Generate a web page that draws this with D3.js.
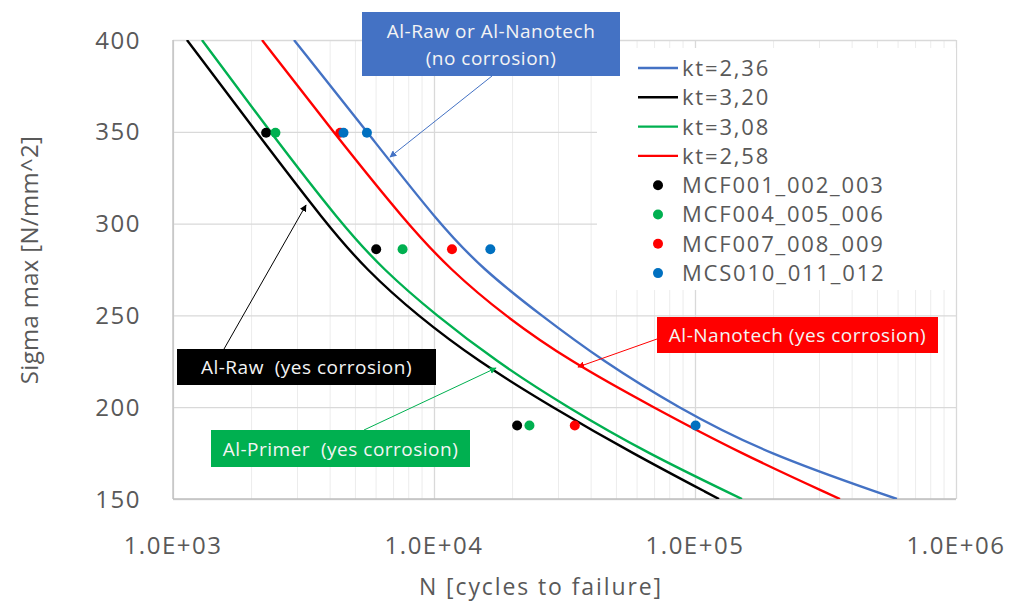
<!DOCTYPE html>
<html>
<head>
<meta charset="utf-8">
<script src="https://cdn.jsdelivr.net/npm/d3@7"></script>
<style>
  html, body { margin: 0; padding: 0; background: #fff; }
  svg text { font-family: "Open Sans", "Noto Sans", sans-serif; white-space: pre; }
</style>
</head>
<body>
<div id="chart"></div>
<script>
const sigmaLevels = [400, 350, 300, 275, 250, 225, 200, 175, 150];

const curveLabels = ["kt=2,36", "kt=3,20", "kt=3,08", "kt=2,58"];
const curveColors = ["#4472c4", "#000000", "#00b050", "#ff0000"];
const cyclesKt236 = [2908, 5538, 10450, 15410, 25700, 44410, 85310, 185500, 594000];
const cyclesKt320 = [1131, 2080, 3857, 5489, 8606, 14740, 28320, 57350, 123600];
const cyclesKt308 = [1291, 2353, 4403, 6377, 10180, 17280, 32330, 65480, 151400];
const cyclesKt258 = [2193, 4102, 7882, 11520, 18550, 33200, 69050, 148700, 359400];

const testLabels = ["MCF001_002_003", "MCF004_005_006", "MCF007_008_009", "MCS010_011_012"];
const testColors = ["#000000", "#00b050", "#ff0000", "#0070c0"];
const testSigma = [
  [349.5, 286, 190],
  [349.5, 286, 190],
  [349.5, 286, 190],
  [349.5, 349.5, 286, 190]
];
const testCycles = [
  [2274, 6005, 20820],
  [2469, 7579, 23210],
  [4371, 11720, 34630],
  [4501, 5534, 16440, 100500]
];

const xTicks = [1e3, 1e4, 1e5, 1e6];
const yTicks = [150, 200, 250, 300, 350, 400];

const W = 1010, H = 604;
const m = { top: 40, right: 54, bottom: 105, left: 173 };
const iw = W - m.left - m.right;
const ih = H - m.top - m.bottom;

const svg = d3.select("#chart").append("svg").attr("width", W).attr("height", H);

const x = d3.scaleLog().domain([1e3, 1e6]).range([0, iw]);
const y = d3.scaleLinear().domain([150, 400]).range([ih, 0]);

const g = svg.append("g").attr("transform", `translate(${m.left},${m.top})`);

svg.append("defs").append("clipPath").attr("id", "plotClip")
  .append("rect").attr("width", iw).attr("height", ih);

// minor + major vertical gridlines
const minorX = [];
for (let d = 1e3; d < 1e6; d *= 10) for (let k = 2; k <= 9; k++) minorX.push(d * k);
g.append("g").selectAll("line").data(minorX).join("line")
  .attr("x1", d => x(d)).attr("x2", d => x(d)).attr("y1", 0).attr("y2", ih)
  .attr("stroke", "#ececec").attr("stroke-width", 1);

g.append("g").call(d3.axisBottom(x).tickValues(xTicks).tickSize(ih).tickFormat(""))
  .call(a => a.select(".domain").remove())
  .selectAll("line").attr("stroke", "#d9d9d9").attr("stroke-width", 1.3);

g.append("g").call(d3.axisLeft(y).tickValues(yTicks).tickSize(-iw).tickFormat(""))
  .call(a => a.select(".domain").remove())
  .selectAll("line").attr("stroke", "#d9d9d9").attr("stroke-width", 1.3);

// axis lines
g.append("line").attr("x1", 0).attr("x2", 0).attr("y1", 0).attr("y2", ih)
  .attr("stroke", "#bfbfbf").attr("stroke-width", 1.3);
g.append("line").attr("x1", 0).attr("x2", iw).attr("y1", ih).attr("y2", ih)
  .attr("stroke", "#bfbfbf").attr("stroke-width", 1.3);

// tick labels
g.append("g").selectAll("text").data(yTicks).join("text")
  .attr("x", -32).attr("y", d => y(d)).attr("dy", "0.36em")
  .attr("text-anchor", "end").attr("font-size", 24).attr("letter-spacing", 1.5).attr("fill", "#595959")
  .text(d => d);

const sci = d => "1.0E+" + String(Math.round(Math.log10(d))).padStart(2, "0");
g.append("g").selectAll("text").data(xTicks).join("text")
  .attr("x", d => x(d)).attr("y", ih + 46).attr("dy", "0.36em")
  .attr("text-anchor", "middle").attr("font-size", 24).attr("letter-spacing", 1.5).attr("fill", "#595959")
  .text(sci);

// axis titles
svg.append("text").attr("x", 541).attr("y", 587).attr("dy", "0.36em")
  .attr("text-anchor", "middle").attr("font-size", 23).attr("letter-spacing", 1.9).attr("fill", "#595959")
  .text("N [cycles to failure]");
svg.append("text").attr("transform", "translate(29,260) rotate(-90)").attr("dy", "0.36em")
  .attr("text-anchor", "middle").attr("font-size", 24).attr("letter-spacing", 0.3).attr("fill", "#595959")
  .text("Sigma max [N/mm^2]");

// S-N curves
const curveCycles = [cyclesKt236, cyclesKt320, cyclesKt308, cyclesKt258];
const line = d3.line().x(d => x(d[0])).y(d => y(d[1])).curve(d3.curveBasis);
const curves = g.append("g").attr("clip-path", "url(#plotClip)");
curveCycles.forEach((cyc, i) => {
  curves.append("path").datum(cyc.map((n, j) => [n, sigmaLevels[j]]))
    .attr("fill", "none").attr("stroke", curveColors[i]).attr("stroke-width", 2.4)
    .attr("d", line);
});

// test points
testCycles.forEach((cyc, i) => {
  g.append("g").selectAll("circle").data(cyc.map((n, j) => [n, testSigma[i][j]])).join("circle")
    .attr("cx", d => x(d[0])).attr("cy", d => y(d[1])).attr("r", 5)
    .attr("fill", testColors[i]);
});

// legend (white box hides the grid behind it)
const leg = svg.append("g");
leg.append("rect").attr("x", 597).attr("y", 48).attr("width", 359).attr("height", 242).attr("fill", "#fff");
const rowY = i => 68 + i * 29.3;
curveLabels.forEach((lab, i) => {
  leg.append("line").attr("x1", 638).attr("x2", 678).attr("y1", rowY(i)).attr("y2", rowY(i))
    .attr("stroke", curveColors[i]).attr("stroke-width", 2.4);
  leg.append("text").attr("x", 682).attr("y", rowY(i)).attr("dy", "0.36em")
    .attr("font-size", 22).attr("letter-spacing", 1.8).attr("fill", "#595959").text(lab);
});
testLabels.forEach((lab, k) => {
  const i = k + 4;
  leg.append("circle").attr("cx", 658).attr("cy", rowY(i)).attr("r", 5).attr("fill", testColors[k]);
  leg.append("text").attr("x", 682).attr("y", rowY(i)).attr("dy", "0.36em")
    .attr("font-size", 22).attr("letter-spacing", 1.8).attr("fill", "#595959").text(lab);
});

// callout boxes with arrows
const defs = svg.select("defs");
function arrowMarker(id, color) {
  defs.append("marker").attr("id", id).attr("viewBox", "0 0 10 10")
    .attr("refX", 9).attr("refY", 5).attr("markerWidth", 7).attr("markerHeight", 7)
    .attr("markerUnits", "userSpaceOnUse").attr("orient", "auto")
    .append("path").attr("d", "M0,0 L10,5 L0,10 Z").attr("fill", color);
}

const callouts = [
  { id: "arBlue", color: "#4472c4", box: [362, 12, 258, 64], lines: ["Al-Raw or Al-Nanotech", "(no corrosion)"],
    textY: [31, 58], from: [492, 76], to: [390, 157] },
  { id: "arBlack", color: "#000000", box: [177, 349, 259, 36], lines: ["Al-Raw  (yes corrosion)"],
    textY: [367], from: [224, 349], to: [306, 205] },
  { id: "arGreen", color: "#00b050", box: [211, 430, 259, 37], lines: ["Al-Primer  (yes corrosion)"],
    textY: [449], from: [364, 430], to: [496, 368] },
  { id: "arRed", color: "#ff0000", box: [657, 317, 281, 36], lines: ["Al-Nanotech (yes corrosion)"],
    textY: [335], from: [657, 339], to: [578, 367] }
];
const ann = svg.append("g");
callouts.forEach(c => {
  arrowMarker(c.id, c.color);
  ann.append("line").attr("x1", c.from[0]).attr("y1", c.from[1]).attr("x2", c.to[0]).attr("y2", c.to[1])
    .attr("stroke", c.color).attr("stroke-width", 1).attr("marker-end", `url(#${c.id})`);
  ann.append("rect").attr("x", c.box[0]).attr("y", c.box[1]).attr("width", c.box[2]).attr("height", c.box[3])
    .attr("fill", c.color);
  c.lines.forEach((t, k) => {
    ann.append("text").attr("x", c.box[0] + c.box[2] / 2).attr("y", c.textY[k]).attr("dy", "0.36em")
      .attr("text-anchor", "middle").attr("font-size", 19).attr("letter-spacing", 0.5).attr("fill", "#f4f4f4").text(t);
  });
});
</script>
</body>
</html>
